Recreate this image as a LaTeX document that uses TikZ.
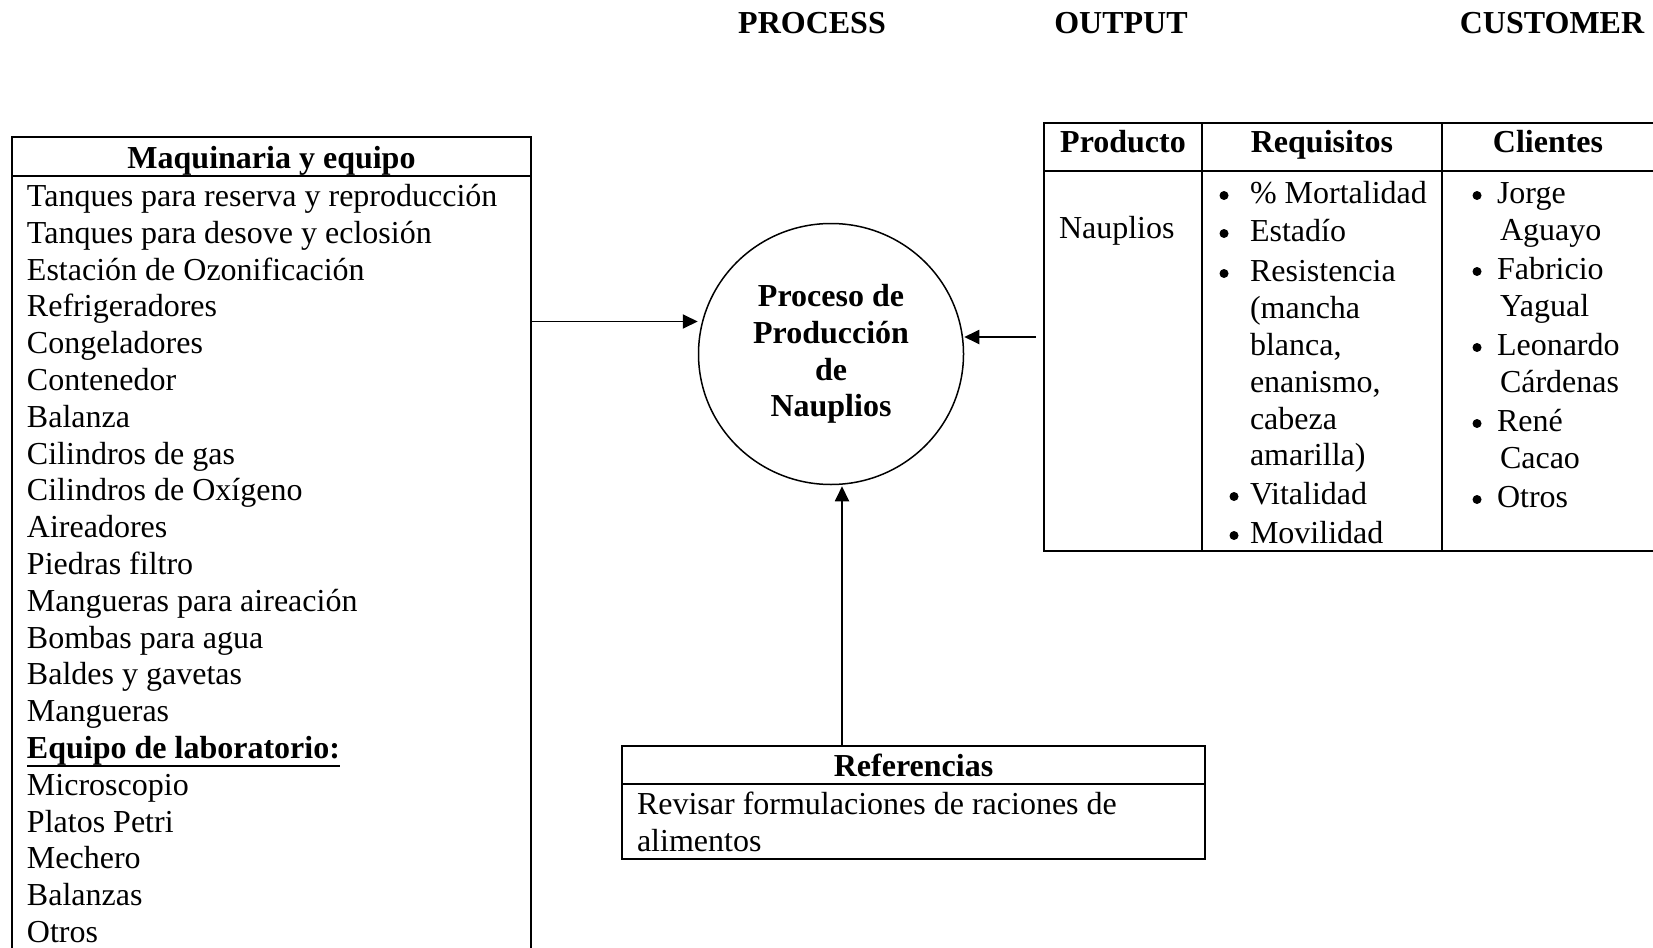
\documentclass[tikz,border=0pt]{standalone}
\usepackage{fontspec}
\setmainfont{Liberation Serif}
\usetikzlibrary{arrows.meta,calc,shapes.geometric}
\begin{document}
\begin{tikzpicture}[x=1pt,y=-1pt,
  txt/.style={inner sep=0pt,outer sep=0pt,font=\fontsize{32}{36.8}\selectfont},
  bold/.style={txt,font=\fontsize{32}{36.8}\selectfont\bfseries},
  frame/.style={draw,line width=1.8pt,inner sep=0pt,outer sep=0pt},
  rule/.style={line width=1.8pt},
  dot/.style={circle,fill,inner sep=0pt,outer sep=0pt,minimum size=9pt},
  arr/.style={line width=1.9pt,-{Triangle[length=15pt,width=14pt]}}]
\useasboundingbox (0,0) rectangle (1653,947);
\clip (0,0) rectangle (1653,947);

% column headings
\node[bold,anchor=base] (hproc) at (812,33.5) {PROCESS};
\node[bold,anchor=base] (hout)  at (1121,33.5) {OUTPUT};
\node[bold,anchor=base] (hcus)  at (1552,33.5) {CUSTOMER};

% equipment list (runs past the lower edge)
\node[frame,anchor=north west,minimum width=519pt,minimum height=850pt] (eqbox) at (12,137) {};
\draw[rule] ([yshift=-39pt]eqbox.north west) -- ([yshift=-39pt]eqbox.north east);
\node[bold,anchor=base] (eqtitle) at (271.5,168) {Maquinaria y equipo};
\foreach \itm [count=\i] in {Tanques para reserva y reproducción,
  Tanques para desove y eclosión, Estación de Ozonificación, Refrigeradores,
  Congeladores, Contenedor, Balanza, Cilindros de gas, Cilindros de Oxígeno,
  Aireadores, Piedras filtro, Mangueras para aireación, Bombas para agua,
  Baldes y gavetas, Mangueras, {\textbf{Equipo de laboratorio:}},
  Microscopio, Platos Petri, Mechero, Balanzas, Otros}
  \node[txt,anchor=base west] (eq\i) at (27,{206.5+(\i-1)*36.8}) {\itm};
% underline of the laboratory heading
\draw[line width=2.4pt] ([yshift=-7.5pt]eq16.base west) -- ([yshift=-7.5pt]eq16.base east);

% process
\node[draw,ellipse,line width=1.5pt,minimum width=265pt,minimum height=261pt,
  inner sep=0pt,align=center,font=\fontsize{32}{36.7}\selectfont\bfseries]
  (proc) at (831,354) {Proceso de\\Producción\\de\\Nauplios};

% references
\node[frame,anchor=north west,minimum width=583pt,minimum height=113pt] (ref) at (622,746) {};
\draw[rule] ([yshift=-38pt]ref.north west) -- ([yshift=-38pt]ref.north east);
\node[bold,anchor=base] (reftitle) at (913.5,776.5) {Referencias};
\node[txt,anchor=base west] (ref1) at (637,814.5) {Revisar formulaciones de raciones de};
\node[txt,anchor=base west] (ref2) at (637,851.5) {alimentos};

% product table (runs past the right edge)
\node[frame,anchor=north west,minimum width=620pt,minimum height=428pt] (tbl) at (1044,123) {};
\draw[rule] ([yshift=-48pt]tbl.north west) -- ([yshift=-48pt]tbl.north east);
\draw[rule] ([xshift=158pt]tbl.north west) -- ([xshift=158pt]tbl.south west);
\draw[rule] ([xshift=398pt]tbl.north west) -- ([xshift=398pt]tbl.south west);
\node[bold,anchor=base] (tprod) at (1123,152.5) {Producto};
\node[bold,anchor=base] (treq)  at (1322,152.5) {Requisitos};
\node[bold,anchor=base] (tcli)  at (1548,152.5) {Clientes};
\node[txt,anchor=base west] (naup) at (1059,238.5) {Nauplios};

% requirements
\foreach \yy/\bx/\itm [count=\i] in {193/1224/{\% Mortalidad}, 231/1224/{Estadío},
  271/1224/{Resistencia}, 308/0/{(mancha}, 345/0/{blanca,}, 382/0/{enanismo,},
  419/0/{cabeza}, 455/0/{amarilla)}, 494/1234/{Vitalidad}, 533/1234/{Movilidad}}{
  \node[txt,anchor=base west] (rq\i) at (1250,\yy+10.5) {\itm};
  \ifnum\bx>0 \node[dot] (rb\i) at (\bx,\yy+2.5) {};\fi
}

% customers
\foreach \yy/\bx/\itm [count=\i] in {193/1477/{Jorge}, 230/0/{Aguayo}, 269/1477/{Fabricio},
  306/0/{Yagual}, 345/1477/{Leonardo}, 382/0/{Cárdenas}, 421/1477/{René},
  458/0/{Cacao}, 497/1477/{Otros}}{
  \ifnum\bx>0
    \node[txt,anchor=base west] (cl\i) at (1497,\yy+10.5) {\itm};
    \node[dot] (cb\i) at (\bx,\yy+2.5) {};
  \else
    \node[txt,anchor=base west] (cl\i) at (1500,\yy+10.5) {\itm};
  \fi
}

% connectors
\path ([yshift=-184.5pt]eqbox.north east) coordinate (inA);
\draw[arr] (inA) -- (inA -| proc.west);
\draw[arr] ([xshift=-8pt]tbl.west) -- (tbl.west -| proc.east);
\path (proc.south) ++(11,1) coordinate (pin);
\draw[arr] (ref.north -| pin) -- (pin);
\end{tikzpicture}
\end{document}
